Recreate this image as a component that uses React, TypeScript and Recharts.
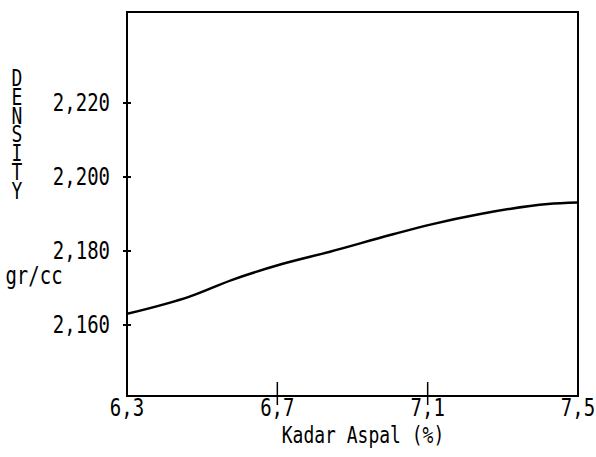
import React from 'react';
import { LineChart, Line, XAxis, YAxis, ReferenceArea } from 'recharts';

const kadarAspal = [6.3, 6.47, 6.58, 6.71, 6.84, 7.0, 7.11, 7.24, 7.42, 7.5];
const densityValues = [2.163, 2.1678, 2.1722, 2.1764, 2.1798, 2.1843, 2.1872, 2.19, 2.1927, 2.1931];
const xTicks = [6.3, 6.7, 7.1, 7.5];
const yTicks = [2.16, 2.18, 2.2, 2.22];
const yAxisLabel = 'DENSITY';
const yAxisUnit = 'gr/cc';
const xAxisTitle = 'Kadar Aspal (%)';

const X_DOMAIN: [number, number] = [6.3, 7.5];
const Y_DOMAIN: [number, number] = [2.1408, 2.2446];

const data = kadarAspal.map((x, i) => ({ x, y: densityValues[i] }));

const FONT = "'DejaVu Sans Mono', monospace";
const SY = 1.3;

const fmtX = (v: number) => v.toFixed(1).replace('.', ',');
const fmtY = (v: number) => v.toFixed(3).replace('.', ',');

const YTick = (props: any) => {
  const { x, y, payload } = props;
  return (
    <g>
      <line x1={x - 4} x2={x + 4} y1={y} y2={y} stroke="#000" strokeWidth={2} />
      <text
        transform={`translate(${x - 17},${y}) scale(1,${SY})`}
        textAnchor="end"
        dominantBaseline="central"
        fontFamily={FONT}
        fontSize={19}
        fill="#000"
      >
        {fmtY(payload.value)}
      </text>
    </g>
  );
};

const XTick = (props: any) => {
  const { x, y, payload, index } = props;
  const interior = index > 0 && index < xTicks.length - 1;
  return (
    <g>
      {interior && <line x1={x} x2={x} y1={y - 14} y2={y + 9} stroke="#000" strokeWidth={1.5} />}
      <text
        transform={`translate(${x},${y + 12}) scale(1,${SY})`}
        textAnchor="middle"
        dominantBaseline="central"
        fontFamily={FONT}
        fontSize={19}
        fill="#000"
      >
        {fmtX(payload.value)}
      </text>
    </g>
  );
};

const DensityLabel = () => (
  <g>
    <text
      transform={`translate(17,65) scale(1,${SY})`}
      x={0}
      y={0}
      fontFamily={FONT}
      fontSize={18}
      fill="#000"
      style={{ writingMode: 'vertical-rl', textOrientation: 'upright', letterSpacing: '-6.3px' } as any}
    >
      {yAxisLabel}
    </text>
    <text
      transform={`translate(34,284) scale(1,${SY})`}
      textAnchor="middle"
      fontFamily={FONT}
      fontSize={19}
      fill="#000"
    >
      {yAxisUnit}
    </text>
  </g>
);

const XTitle = () => (
  <text
    transform={`translate(363,443) scale(1,1.25)`}
    textAnchor="middle"
    fontFamily={FONT}
    fontSize={18}
    fill="#000"
  >
    {xAxisTitle}
  </text>
);

export default function App() {
  return (
    <div style={{ position: 'absolute', left: 0, top: 0, width: 596, height: 457, background: '#fff' }}>
      <LineChart
        width={596}
        height={457}
        data={data}
        margin={{ top: 12, right: 18, left: 27, bottom: 21 }}
      >
        <XAxis
          dataKey="x"
          type="number"
          domain={X_DOMAIN}
          ticks={xTicks}
          allowDataOverflow
          height={40}
          tickSize={0}
          tickMargin={0}
          axisLine={{ stroke: '#000', strokeWidth: 2 }}
          tickLine={false}
          tick={<XTick />}
          interval={0}
          label={<XTitle />}
        />
        <YAxis
          type="number"
          domain={Y_DOMAIN}
          ticks={yTicks}
          allowDataOverflow
          width={100}
          tickSize={0}
          tickMargin={0}
          axisLine={{ stroke: '#000', strokeWidth: 2 }}
          tickLine={false}
          tick={<YTick />}
          interval={0}
          label={<DensityLabel />}
        />
        <ReferenceArea
          x1={X_DOMAIN[0]}
          x2={X_DOMAIN[1]}
          y1={Y_DOMAIN[0]}
          y2={Y_DOMAIN[1]}
          fill="none"
          stroke="#000"
          strokeWidth={2}
          fillOpacity={0}
        />
        <Line
          type="monotone"
          dataKey="y"
          stroke="#000"
          strokeWidth={2.5}
          dot={false}
          isAnimationActive={false}
        />
      </LineChart>
    </div>
  );
}
